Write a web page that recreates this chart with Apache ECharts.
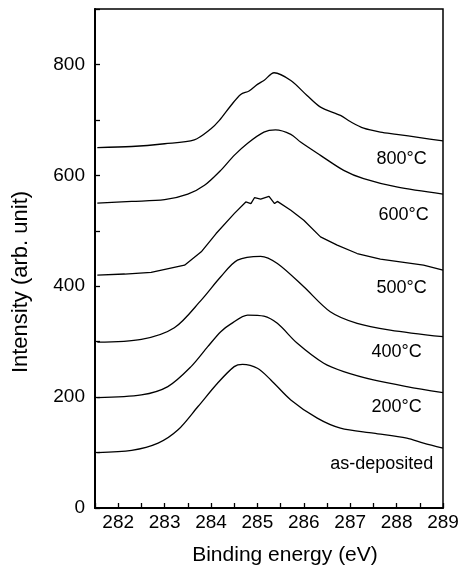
<!DOCTYPE html>
<html>
<head>
<meta charset="utf-8">
<script src="https://cdn.jsdelivr.net/npm/echarts@6/dist/echarts.min.js"></script>
<style>html,body{margin:0;padding:0;background:#fff}#c{width:462px;height:571px}</style>
</head>
<body>
<div id="c"></div>
<script>
// Binding energy (eV) / intensity (arb. unit)
const seriesNames = ['as-deposited', '200°C', '400°C', '500°C', '600°C', '800°C'];

const eAsDep = [281.55, 282.29, 282.86, 283.29, 283.72, 284.14, 284.5, 284.68, 285.0, 285.29, 285.72, 286.29, 286.79, 287.5, 288.22, 288.58, 289.0];
const iAsDep = [100, 104, 117, 141, 183, 225, 255, 259, 252, 231, 195, 162, 144, 135, 126, 117, 108];

const e200 = [281.55, 282.5, 283.07, 283.57, 283.93, 284.21, 284.43, 284.79, 285.14, 285.43, 285.86, 286.43, 286.86, 287.5, 288.22, 289.0];
const i200 = [199, 204, 219, 255, 291, 318, 332, 348, 346, 333, 297, 261, 246, 231, 219, 208];

const e400 = [281.55, 282.5, 283.21, 283.79, 284.21, 284.57, 285.07, 285.43, 286.0, 286.57, 287.15, 287.86, 289.0];
const i400 = [299, 304, 325, 375, 417, 447, 454, 441, 399, 354, 333, 321, 309];

const e500 = [281.55, 282.14, 282.71, 283.43, 283.79, 284.11, 284.5, 284.75, 284.86, 284.94, 285.07, 285.25, 285.37, 285.43, 285.72, 286.0, 286.36, 286.72, 287.15, 287.65, 288.58, 289.0];
const i500 = [420, 422, 425, 438, 462, 495, 531, 552, 549, 560, 557, 562, 549, 553, 537, 519, 489, 474, 459, 449, 438, 429];

const e600 = [281.55, 282.29, 283.0, 283.5, 283.86, 284.21, 284.5, 284.79, 285.14, 285.39, 285.72, 285.93, 286.36, 286.86, 287.29, 288.0, 289.0];
const i600 = [550, 553, 556, 566, 582, 609, 636, 658, 678, 682, 674, 660, 636, 609, 594, 579, 566];

const e800 = [281.55, 282.29, 283.0, 283.64, 284.0, 284.18, 284.43, 284.64, 284.82, 285.0, 285.14, 285.36, 285.72, 286.07, 286.36, 286.79, 287.0, 287.29, 287.65, 288.0, 288.5, 289.0];
const i800 = [650, 652, 657, 664, 684, 699, 726, 746, 752, 764, 771, 785, 771, 744, 723, 708, 697, 685, 678, 674, 668, 662];

// Curve label texts and their anchor points (data coordinates)
const labelTexts = ['as-deposited', '200°C', '400°C', '500°C', '600°C', '800°C'];
const labelPos = [[287.68, 80], [288.0, 182], [288.0, 282], [288.11, 396], [288.15, 528], [288.11, 630]];

const xTickLabels = [282, 283, 284, 285, 286, 287, 288, 289];
const yTickLabels = [0, 200, 400, 600, 800];
const xTitle = 'Binding energy (eV)';
const yTitle = 'Intensity (arb. unit)';

const energies = [eAsDep, e200, e400, e500, e600, e800];
const intens = [iAsDep, i200, i400, i500, i600, i800];

const FONT = '"Liberation Sans", Arial, Helvetica, sans-serif';

const series = seriesNames.map((name, k) => ({
  name: name,
  type: 'line',
  data: energies[k].map((e, j) => [e, intens[k][j]]),
  showSymbol: false,
  smooth: k === 3 ? false : 0.3,
  lineStyle: { color: '#000', width: 1.3 },
  silent: true,
  markPoint: {
    symbol: 'circle', symbolSize: 0, silent: true,
    data: [{ coord: labelPos[k], value: labelTexts[k] }],
    label: { show: true, formatter: labelTexts[k], color: '#000', fontSize: 18, fontFamily: FONT, position: 'inside' }
  }
}));

const chart = echarts.init(document.getElementById('c'), null, { renderer: 'canvas' });
chart.setOption({
  animation: false,
  backgroundColor: '#fff',
  grid: { left: 95, right: 19, top: 9, bottom: 63, show: true, borderColor: '#000', borderWidth: 1.5 },
  graphic: [
    { type: 'text', left: 'center', x: 0, style: { text: '' } },
    { type: 'text', position: [285, 555], style: { text: xTitle, font: '21px ' + FONT, fill: '#000', textAlign: 'center', textVerticalAlign: 'middle' } },
    { type: 'text', position: [21, 282], rotation: Math.PI / 2, style: { text: yTitle, font: '22px ' + FONT, fill: '#000', textAlign: 'center', textVerticalAlign: 'middle' } }
  ],
  xAxis: {
    type: 'value', min: 281.5, max: 289, interval: 0.5,
    axisLine: { show: true, onZero: false, lineStyle: { color: '#000', width: 2 } },
    axisTick: { show: true, inside: true, length: 5, lineStyle: { color: '#000', width: 1.3 } },
    axisLabel: {
      margin: 5, fontSize: 19, fontFamily: FONT, color: '#000',
      formatter: v => (xTickLabels.indexOf(Math.round(v * 100) / 100) >= 0 ? String(v) : '')
    },
    splitLine: { show: false }
  },
  yAxis: {
    type: 'value', min: 0, max: 900, interval: 100,
    axisLine: { show: true, onZero: false, lineStyle: { color: '#000', width: 2 } },
    axisTick: { show: true, inside: true, length: 5, lineStyle: { color: '#000', width: 1.3 } },
    axisLabel: {
      margin: 10, fontSize: 19, fontFamily: FONT, color: '#000',
      formatter: v => (yTickLabels.indexOf(v) >= 0 ? String(v) : '')
    },
    splitLine: { show: false }
  },
  series: series
});
</script>
</body>
</html>
